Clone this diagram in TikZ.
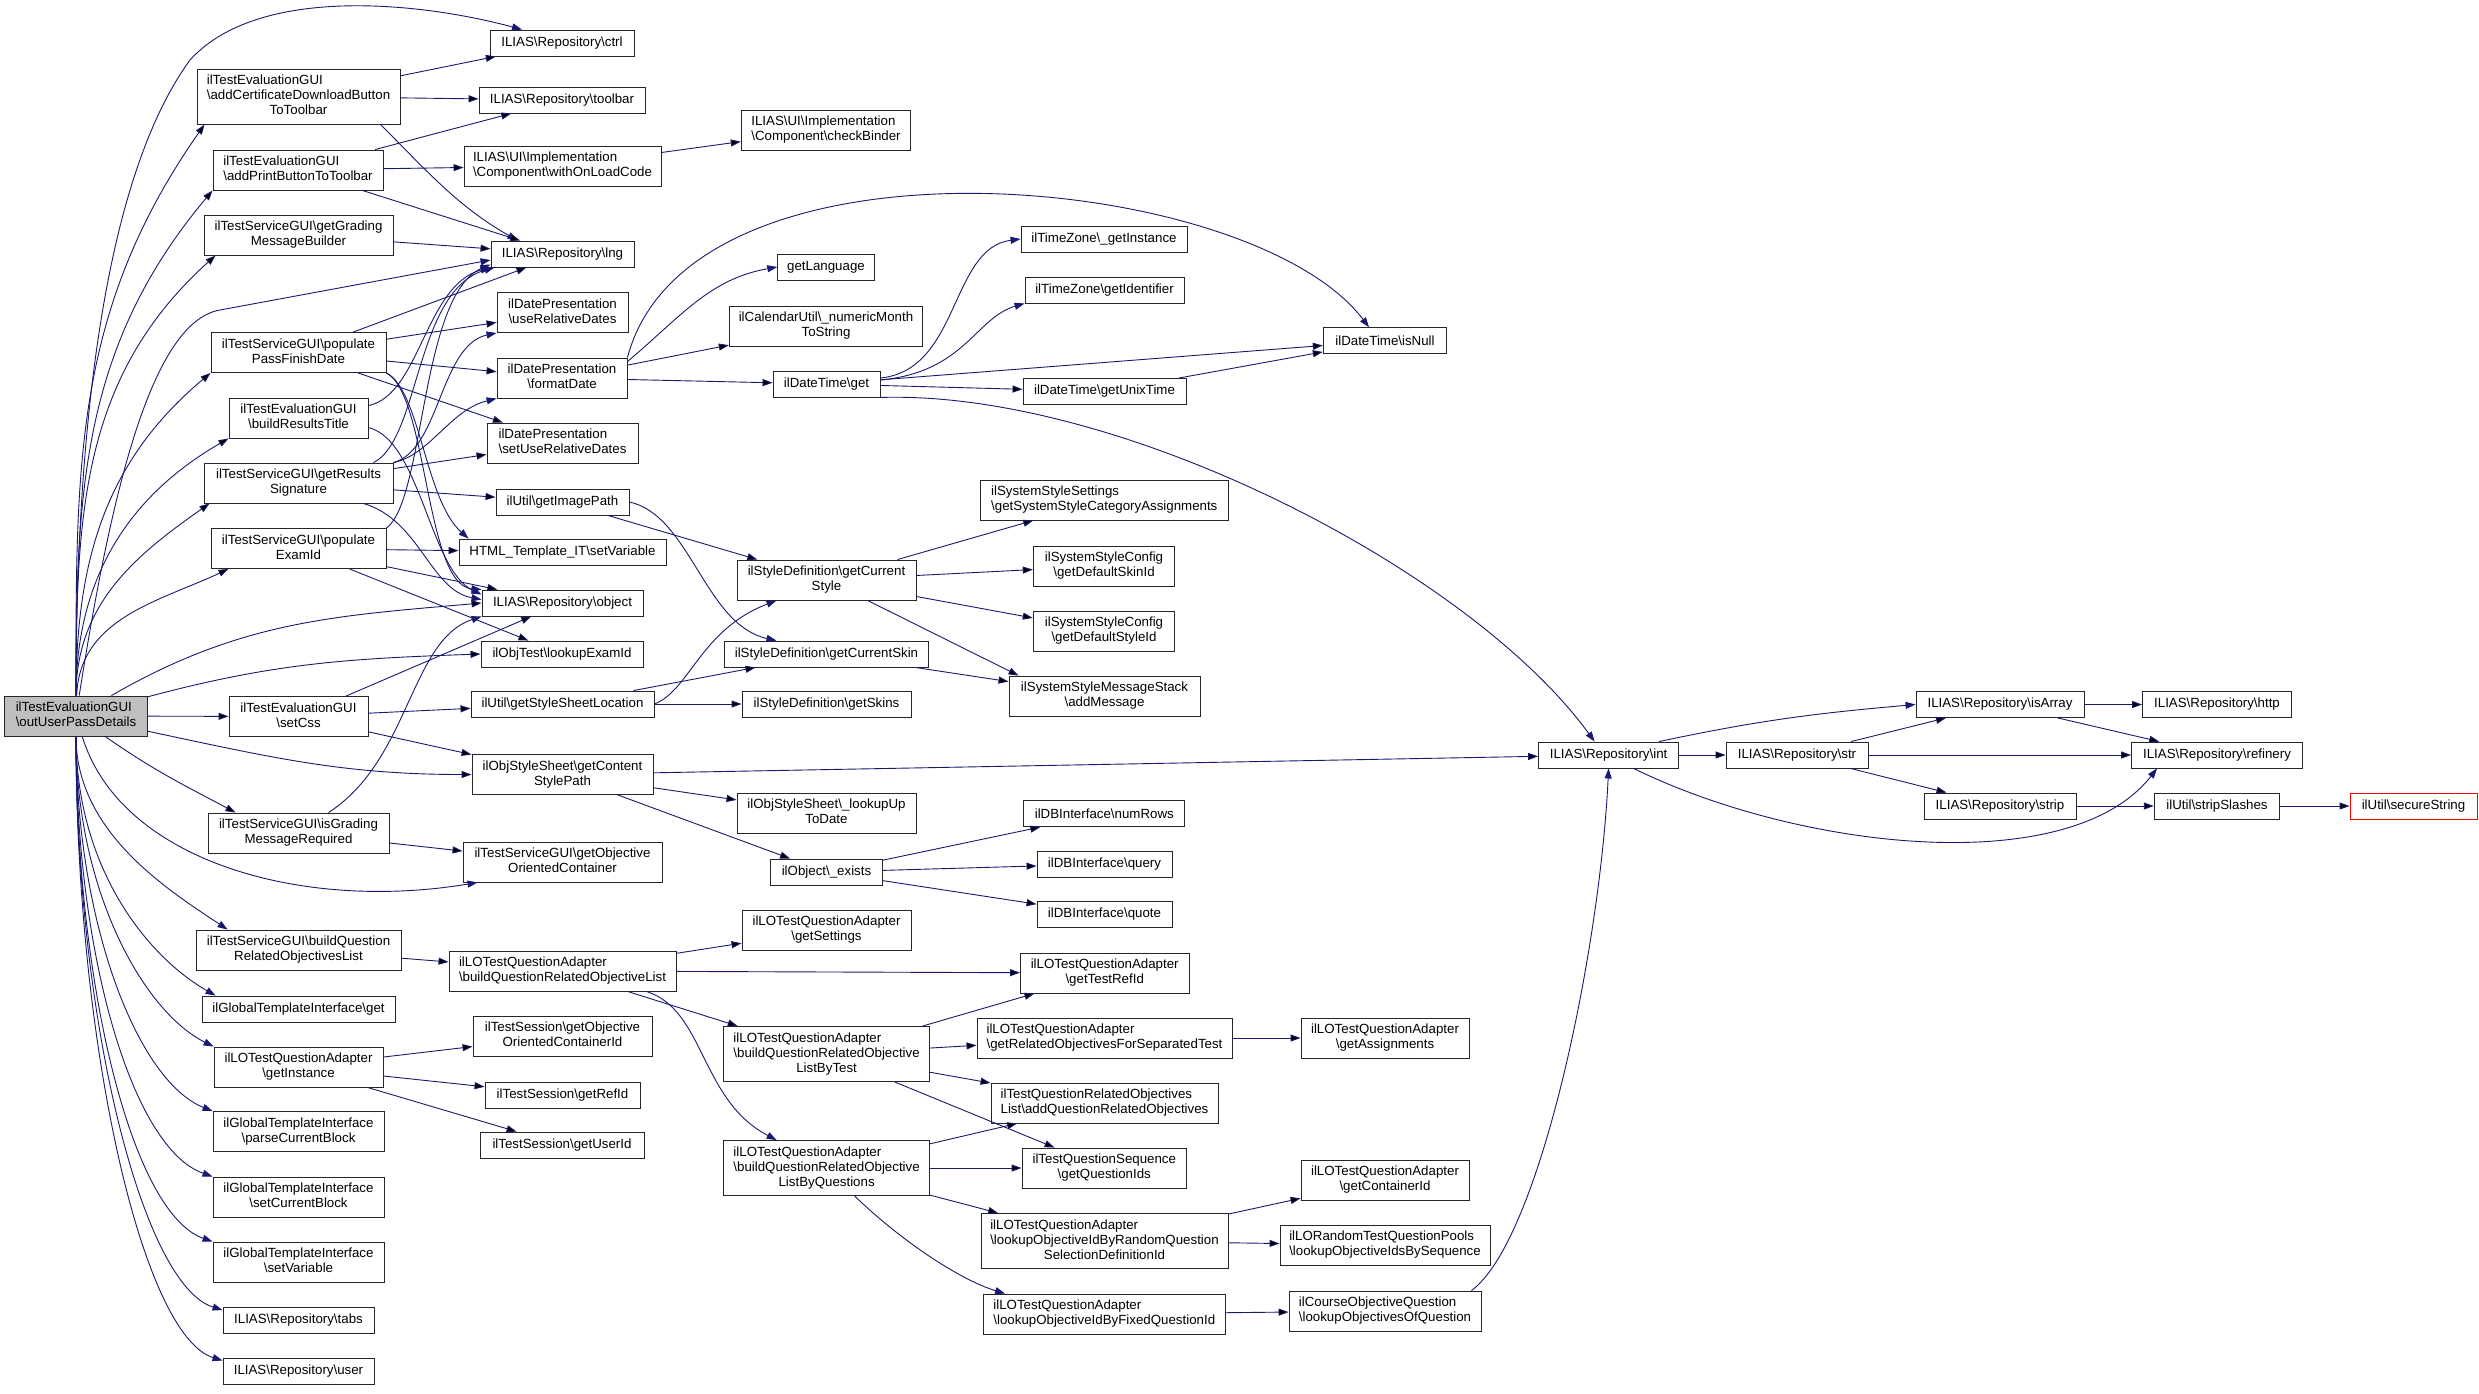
\documentclass[tikz,border=0pt]{standalone}
\usepackage{fontspec}
\setmainfont{Liberation Sans}
\usetikzlibrary{arrows.meta}
\newcommand{\bksl}{\textbackslash}
\newcommand{\fnlabel}[2]{\begin{tabular}{@{}c@{}}\multicolumn{1}{@{}l@{}}{#1}\\#2\end{tabular}}
\definecolor{edgeblue}{RGB}{25,25,112}

\begin{document}
\begin{tikzpicture}[x=1pt,y=1pt,
  fnbox/.style={shape=rectangle,draw=black!85,align=center,line width=0.9pt,inner sep=2pt,minimum height=26pt,font=\fontsize{13.3}{15}\selectfont},
  fnbox2/.style={fnbox,minimum height=40pt},
  fnbox3/.style={fnbox,minimum height=55pt},
  calls/.style={-{Triangle[length=10pt,width=7pt]},draw=edgeblue,line width=0.9pt}]
\fill[white] (0,0) rectangle (2479,-1393);
\useasboundingbox (0,0) rectangle (2479,-1393);

\node[fnbox2,minimum width=143pt,fill=black!25] (0) at (76,-716) {\fnlabel{ilTestEvaluationGUI}{\bksl outUserPassDetails}};
\node[fnbox,minimum width=144pt] (1) at (562,-43) {ILIAS\bksl Repository\bksl ctrl};
\node[fnbox3,minimum width=203pt] (2) at (298.5,-96.5) {\fnlabel{ilTestEvaluationGUI}{\bksl addCertificateDownloadButton\\ToToolbar}};
\node[fnbox,minimum width=166pt] (3) at (562,-100) {ILIAS\bksl Repository\bksl toolbar};
\node[fnbox2,minimum width=170pt] (4) at (298,-170) {\fnlabel{ilTestEvaluationGUI}{\bksl addPrintButtonToToolbar}};
\node[fnbox2,minimum width=197pt] (5) at (562.5,-166) {\fnlabel{ILIAS\bksl UI\bksl Implementation}{\bksl Component\bksl withOnLoadCode}};
\node[fnbox2,minimum width=169.5pt] (6) at (826,-130) {\fnlabel{ILIAS\bksl UI\bksl Implementation}{\bksl Component\bksl checkBinder}};
\node[fnbox2,minimum width=189pt] (7) at (298.5,-235) {\fnlabel{ilTestServiceGUI\bksl getGrading}{MessageBuilder}};
\node[fnbox,minimum width=143pt] (8) at (562.5,-254) {ILIAS\bksl Repository\bksl lng};
\node[fnbox2,minimum width=131pt] (9) at (562.5,-312.5) {\fnlabel{ilDatePresentation}{\bksl useRelativeDates}};
\node[fnbox2,minimum width=175pt] (10) at (298.5,-352.5) {\fnlabel{ilTestServiceGUI\bksl populate}{PassFinishDate}};
\node[fnbox2,minimum width=130pt] (11) at (562,-378) {\fnlabel{ilDatePresentation}{\bksl formatDate}};
\node[fnbox2,minimum width=139pt] (12) at (298.5,-418) {\fnlabel{ilTestEvaluationGUI}{\bksl buildResultsTitle}};
\node[fnbox2,minimum width=151pt] (13) at (562.5,-443) {\fnlabel{ilDatePresentation}{\bksl setUseRelativeDates}};
\node[fnbox2,minimum width=189pt] (14) at (298.5,-483) {\fnlabel{ilTestServiceGUI\bksl getResults}{Signature}};
\node[fnbox,minimum width=133pt] (15) at (562.5,-502) {ilUtil\bksl getImagePath};
\node[fnbox2,minimum width=175pt] (16) at (298.5,-548.5) {\fnlabel{ilTestServiceGUI\bksl populate}{ExamId}};
\node[fnbox,minimum width=207pt] (17) at (562.5,-552) {HTML\_Template\_IT\bksl setVariable};
\node[fnbox,minimum width=161pt] (18) at (562.5,-603) {ILIAS\bksl Repository\bksl object};
\node[fnbox,minimum width=162pt] (19) at (562,-654) {ilObjTest\bksl lookupExamId};
\node[fnbox2,minimum width=139pt] (20) at (298.5,-716.5) {\fnlabel{ilTestEvaluationGUI}{\bksl setCss}};
\node[fnbox,minimum width=183pt] (21) at (562.5,-704) {ilUtil\bksl getStyleSheetLocation};
\node[fnbox2,minimum width=181pt] (22) at (562.5,-774.5) {\fnlabel{ilObjStyleSheet\bksl getContent}{StylePath}};
\node[fnbox2,minimum width=181pt] (23) at (298.5,-833) {\fnlabel{ilTestServiceGUI\bksl isGrading}{MessageRequired}};
\node[fnbox2,minimum width=199pt] (24) at (562.5,-862) {\fnlabel{ilTestServiceGUI\bksl getObjective}{OrientedContainer}};
\node[fnbox2,minimum width=205pt] (25) at (298.5,-950) {\fnlabel{ilTestServiceGUI\bksl buildQuestion}{RelatedObjectivesList}};
\node[fnbox2,minimum width=227pt] (26) at (562.5,-971) {\fnlabel{ilLOTestQuestionAdapter}{\bksl buildQuestionRelatedObjectiveList}};
\node[fnbox,minimum width=193pt] (27) at (298.5,-1009) {ilGlobalTemplateInterface\bksl get};
\node[fnbox2,minimum width=169pt] (28) at (298.5,-1067) {\fnlabel{ilLOTestQuestionAdapter}{\bksl getInstance}};
\node[fnbox2,minimum width=179pt] (29) at (562.5,-1036) {\fnlabel{ilTestSession\bksl getObjective}{OrientedContainerId}};
\node[fnbox,minimum width=155pt] (30) at (562.5,-1095) {ilTestSession\bksl getRefId};
\node[fnbox,minimum width=164pt] (31) at (562,-1145) {ilTestSession\bksl getUserId};
\node[fnbox2,minimum width=171pt] (32) at (298.5,-1131.5) {\fnlabel{ilGlobalTemplateInterface}{\bksl parseCurrentBlock}};
\node[fnbox2,minimum width=171pt] (33) at (298.5,-1197) {\fnlabel{ilGlobalTemplateInterface}{\bksl setCurrentBlock}};
\node[fnbox2,minimum width=171pt] (34) at (298.5,-1262) {\fnlabel{ilGlobalTemplateInterface}{\bksl setVariable}};
\node[fnbox,minimum width=151pt] (35) at (298.5,-1320.5) {ILIAS\bksl Repository\bksl tabs};
\node[fnbox,minimum width=151pt] (36) at (298.5,-1371) {ILIAS\bksl Repository\bksl user};
\node[fnbox,minimum width=96.5pt] (37) at (826,-267) {getLanguage};
\node[fnbox2,minimum width=193.5pt] (38) at (826,-326) {\fnlabel{ilCalendarUtil\bksl\_numericMonth}{ToString}};
\node[fnbox,minimum width=107pt] (39) at (826.5,-384) {ilDateTime\bksl get};
\node[fnbox2,minimum width=179pt] (40) at (826.5,-580) {\fnlabel{ilStyleDefinition\bksl getCurrent}{Style}};
\node[fnbox,minimum width=204pt] (41) at (826.5,-654) {ilStyleDefinition\bksl getCurrentSkin};
\node[fnbox,minimum width=169pt] (42) at (826.5,-704) {ilStyleDefinition\bksl getSkins};
\node[fnbox2,minimum width=179pt] (43) at (826.5,-813) {\fnlabel{ilObjStyleSheet\bksl\_lookupUp}{ToDate}};
\node[fnbox,minimum width=112pt] (44) at (826.5,-872) {ilObject\bksl\_exists};
\node[fnbox2,minimum width=169pt] (45) at (826.5,-930) {\fnlabel{ilLOTestQuestionAdapter}{\bksl getSettings}};
\node[fnbox3,minimum width=206pt] (46) at (826.6,-1054) {\fnlabel{ilLOTestQuestionAdapter}{\bksl buildQuestionRelatedObjective\\ListByTest}};
\node[fnbox3,minimum width=206pt] (47) at (826.6,-1168) {\fnlabel{ilLOTestQuestionAdapter}{\bksl buildQuestionRelatedObjective\\ListByQuestions}};
\node[fnbox,minimum width=166pt] (48) at (1104,-239) {ilTimeZone\bksl\_getInstance};
\node[fnbox,minimum width=159pt] (49) at (1104.5,-290) {ilTimeZone\bksl getIdentifier};
\node[fnbox,minimum width=163pt] (50) at (1104.5,-391.5) {ilDateTime\bksl getUnixTime};
\node[fnbox2,minimum width=248.6pt] (51) at (1104.3,-500) {\fnlabel{ilSystemStyleSettings}{\bksl getSystemStyleCategoryAssignments}};
\node[fnbox2,minimum width=141.5pt] (52) at (1104,-566) {\fnlabel{ilSystemStyleConfig}{\bksl getDefaultSkinId}};
\node[fnbox2,minimum width=141.5pt] (53) at (1104,-631) {\fnlabel{ilSystemStyleConfig}{\bksl getDefaultStyleId}};
\node[fnbox2,minimum width=191pt] (54) at (1104.5,-696) {\fnlabel{ilSystemStyleMessageStack}{\bksl addMessage}};
\node[fnbox,minimum width=161pt] (55) at (1104.3,-813.6) {ilDBInterface\bksl numRows};
\node[fnbox,minimum width=135pt] (56) at (1104.5,-864) {ilDBInterface\bksl query};
\node[fnbox,minimum width=135pt] (57) at (1104.5,-914.5) {ilDBInterface\bksl quote};
\node[fnbox2,minimum width=168.5pt] (58) at (1104.7,-973) {\fnlabel{ilLOTestQuestionAdapter}{\bksl getTestRefId}};
\node[fnbox2,minimum width=255pt] (59) at (1104.5,-1038) {\fnlabel{ilLOTestQuestionAdapter}{\bksl getRelatedObjectivesForSeparatedTest}};
\node[fnbox2,minimum width=227pt] (60) at (1104.5,-1103) {\fnlabel{ilTestQuestionRelatedObjectives}{List\bksl addQuestionRelatedObjectives}};
\node[fnbox2,minimum width=164.6pt] (61) at (1104.3,-1168) {\fnlabel{ilTestQuestionSequence}{\bksl getQuestionIds}};
\node[fnbox3,minimum width=247pt] (62) at (1104.5,-1241) {\fnlabel{ilLOTestQuestionAdapter}{\bksl lookupObjectiveIdByRandomQuestion\\SelectionDefinitionId}};
\node[fnbox2,minimum width=241.5pt] (63) at (1104.3,-1314) {\fnlabel{ilLOTestQuestionAdapter}{\bksl lookupObjectiveIdByFixedQuestionId}};
\node[fnbox,minimum width=123.5pt] (64) at (1385,-340.7) {ilDateTime\bksl isNull};
\node[fnbox2,minimum width=168pt] (65) at (1385,-1038) {\fnlabel{ilLOTestQuestionAdapter}{\bksl getAssignments}};
\node[fnbox2,minimum width=168pt] (66) at (1385,-1180) {\fnlabel{ilLOTestQuestionAdapter}{\bksl getContainerId}};
\node[fnbox2,minimum width=210pt] (67) at (1385,-1245) {\fnlabel{ilLORandomTestQuestionPools}{\bksl lookupObjectiveIdsBySequence}};
\node[fnbox2,minimum width=192pt] (68) at (1385,-1311) {\fnlabel{ilCourseObjectiveQuestion}{\bksl lookupObjectivesOfQuestion}};
\node[fnbox,minimum width=140pt] (69) at (1608.6,-755) {ILIAS\bksl Repository\bksl int};
\node[fnbox,minimum width=142pt] (70) at (1797,-755) {ILIAS\bksl Repository\bksl str};
\node[fnbox,minimum width=168pt] (71) at (2000,-704.5) {ILIAS\bksl Repository\bksl isArray};
\node[fnbox,minimum width=149pt] (72) at (2217,-704.5) {ILIAS\bksl Repository\bksl http};
\node[fnbox,minimum width=171pt] (73) at (2217,-755) {ILIAS\bksl Repository\bksl refinery};
\node[fnbox,minimum width=152pt] (74) at (2000,-806) {ILIAS\bksl Repository\bksl strip};
\node[fnbox,minimum width=125.5pt] (75) at (2217,-806) {ilUtil\bksl stripSlashes};
\node[fnbox,minimum width=127pt,draw=red] (76) at (2413.5,-806) {ilUtil\bksl secureString};

\path [calls] (0) .. controls (76,-400) and (110,-170) .. (190,-60) .. controls (258,15) and (420,-2) .. ([xshift=-40pt]1.north);
\path [calls] (0) edge[out=90,in=235] ([xshift=8pt]2.south west);
\path [calls] (0) edge[out=90,in=230] (4.south west);
\path [calls] (0) edge[out=90,in=222] ([xshift=12pt]7.south west);
\path [calls] (0) .. controls (110,-500) and (150,-322) .. (220,-310) -- ([yshift=-6pt]8.west);
\path [calls] (0) edge[out=90,in=220] (10.south west);
\path [calls] (0) edge[out=90,in=210] (12.south west);
\path [calls] (0) edge[out=90,in=215] ([xshift=6pt]14.south west);
\path [calls] (0) edge[out=88,in=205] ([xshift=18pt]16.south west);
\path [calls] (0) edge[out=30,in=185] (18.west);
\path [calls] (0) edge[out=15,in=182] (19.west);
\path [calls] (0) edge (20);
\path [calls] (0) edge[out=-12,in=180] (22.west);
\path [calls] (0) edge[out=-35,in=152] ([xshift=28pt]23.north west);
\path [calls] (0) .. controls (120,-860) and (300,-912) .. ([xshift=15pt]24.south west);
\path [calls] (0) .. controls +(0,-116) and +(-60,40) .. ([xshift=32pt]25.north west);
\path [calls] (0) .. controls +(0,-150) and +(-70,40) .. ([xshift=14pt]27.north west);
\path [calls] (0) .. controls +(0,-175) and +(-70,35) .. (28.north west);
\path [calls] (0) .. controls +(0,-207) and +(-75,30) .. (32.north west);
\path [calls] (0) .. controls +(0,-240) and +(-80,28) .. (33.north west);
\path [calls] (0) .. controls +(0,-273) and +(-80,28) .. (34.north west);
\path [calls] (0) .. controls +(0,-306) and +(-80,25) .. ([yshift=-3pt]35.north west);
\path [calls] (0) .. controls +(0,-331) and +(-80,25) .. ([yshift=-3pt]36.north west);

\path [calls] (2) edge (1);
\path [calls] (2) edge (3);
\path [calls] ([xshift=-20pt]2.south east) to[out=-45,in=150] ([xshift=-45pt]8.north);
\path [calls] (4) edge (3);
\path [calls] (4) edge (5);
\path [calls] (4) edge (8);
\path [calls] (5) edge (6);
\path [calls] (7) edge (8);
\path [calls] (10) edge (8);
\path [calls] (10) edge (9);
\path [calls] (10) edge (11);
\path [calls] (10) edge (13);
\path [calls] (10.south east) .. controls (420,-390) and (425,-500) .. ([xshift=10pt]17.north west);
\path [calls] (10.south east) .. controls (428,-395) and (425,-585) .. (18.north west);
\path [calls] ([yshift=-8pt]12.north east) .. controls (420,-395) and (425,-285) .. (8.south west);
\path [calls] ([yshift=-30pt]12.north east) .. controls (420,-440) and (430,-570) .. ([yshift=-5pt]18.north west);
\path [calls] ([xshift=-20pt]14.north east) .. controls (420,-440) and (415,-290) .. ([xshift=4pt]8.south west);
\path [calls] (14.north east) .. controls (440,-450) and (440,-345) .. (9.south west);
\path [calls] (14.north east) .. controls (430,-455) and (450,-410) .. (11.south west);
\path [calls] (14) edge (13);
\path [calls] (14) edge (15);
\path [calls] ([xshift=-30pt]14.south east) .. controls (420,-520) and (430,-590) .. ([yshift=-10pt]18.north west);
\path [calls] (16.north east) .. controls (425,-500) and (420,-295) .. ([yshift=3pt]8.south west);
\path [calls] (16) edge (17);
\path [calls] (16) edge (18);
\path [calls] (16) edge (19);
\path [calls] (11.north east) .. controls (690,-120) and (1250,-170) .. ([xshift=-16pt]64.north);
\path [calls] ([yshift=-4pt]11.north east) to[out=40,in=190] (37.west);
\path [calls] (11) edge (38);
\path [calls] (11) edge (39);
\path [calls] ([yshift=6pt]39.east) .. controls (960,-370) and (950,-248) .. (48.west);
\path [calls] ([yshift=4pt]39.east) .. controls (965,-372) and (975,-318) .. (49.south west);
\path [calls] (39) edge (64);
\path [calls] (39) edge (50);
\path [calls] (39.south east) .. controls (1120,-390) and (1470,-570) .. ([xshift=-14pt]69.north);
\path [calls] (50) edge (64);
\path [calls] (15) edge (40);
\path [calls] (15.east) .. controls (690,-515) and (705,-625) .. ([xshift=-50pt]41.north);
\path [calls] (20) edge (18);
\path [calls] (20) edge (21);
\path [calls] (20) edge (22);
\path [calls] (21.east) .. controls (690,-690) and (700,-630) .. ([xshift=-50pt]40.south);
\path [calls] (21) edge (41);
\path [calls] (21) edge (42);
\path [calls] (40) edge (51);
\path [calls] (40) edge (52);
\path [calls] (40) edge (53);
\path [calls] (40) edge ([xshift=10pt]54.north west);
\path [calls] (41) edge (54);
\path [calls] (22) edge (69);
\path [calls] (22) edge (43);
\path [calls] (22) edge (44);
\path [calls] (44) edge (55);
\path [calls] (44) edge (56);
\path [calls] (44) edge (57);
\path [calls] ([xshift=30pt]23.north) .. controls (410,-760) and (410,-640) .. (18.south west);
\path [calls] (23) edge (24);
\path [calls] (25) edge (26);
\path [calls] (26) edge (45);
\path [calls] (26) edge (58);
\path [calls] (26) edge (46);
\path [calls] ([xshift=-30pt]26.south east) .. controls (705,-1010) and (700,-1100) .. ([xshift=-50pt]47.north);
\path [calls] (28) edge (29);
\path [calls] (28) edge (30);
\path [calls] (28) edge (31);
\path [calls] (46) edge (58);
\path [calls] (46) edge (59);
\path [calls] (46) edge (60);
\path [calls] (46) edge (61);
\path [calls] (47) edge (60);
\path [calls] (47) edge (61);
\path [calls] (47) edge (62);
\path [calls] ([xshift=28pt]47.south) .. controls (900,-1240) and (960,-1280) .. ([xshift=22pt]63.north west);
\path [calls] (59) edge (65);
\path [calls] (62) edge (66);
\path [calls] (62) edge (67);
\path [calls] (63) edge (68);
\path [calls] ([xshift=-10pt]68.north east) .. controls (1540,-1240) and (1600,-950) .. (69.south);
\path [calls] ([xshift=-20pt]69.north east) to[out=12,in=185] (71.west);
\path [calls] (69) edge (70);
\path [calls] ([xshift=25pt]69.south) .. controls (1800,-850) and (2070,-880) .. ([xshift=-60pt]73.south);
\path [calls] (70) edge (71);
\path [calls] (70) edge (73);
\path [calls] (70) edge (74);
\path [calls] (71) edge (72);
\path [calls] (71) edge (73);
\path [calls] (74) edge (75);
\path [calls] (75) edge (76);
\end{tikzpicture}
\end{document}
